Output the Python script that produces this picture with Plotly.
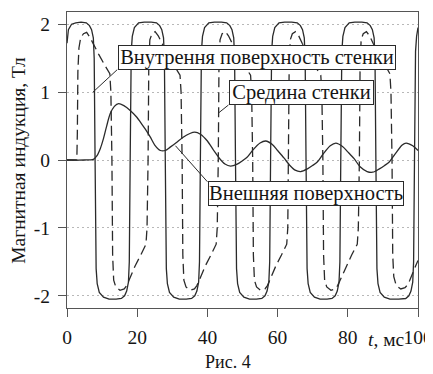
import plotly.graph_objects as go

# Inner wall surface (solid, rectangular-like wave)
t_inner = [0, 0.4, 1.3, 2.5, 4, 5.5, 6.4, 7.0, 7.5, 7.75, 8.0, 8.3, 8.6, 9.2, 10.4, 12, 14,
           15.5, 16.4, 17.0, 17.5, 17.75, 18.0, 18.3, 18.6, 19.2, 20.4, 22, 24,
           25.5, 26.4, 27.0, 27.5, 27.75, 28.0, 28.3, 28.6, 29.2, 30.4, 32, 34,
           35.5, 36.4, 37.0, 37.5, 37.75, 38.0, 38.3, 38.6, 39.2, 40.4, 42, 44,
           45.5, 46.4, 47.0, 47.5, 47.75, 48.0, 48.3, 48.6, 49.2, 50.4, 52, 54,
           55.5, 56.4, 57.0, 57.5, 57.75, 58.0, 58.3, 58.6, 59.2, 60.4, 62, 64,
           65.6, 66.5, 67.1, 67.6, 67.85, 68.1, 68.4, 68.7, 69.3, 70.5, 72.1, 74.1,
           75.5, 76.4, 77.0, 77.5, 77.75, 78.0, 78.3, 78.6, 79.2, 80.4, 82, 84,
           85.5, 86.4, 87.0, 87.5, 87.75, 88.0, 88.3, 88.6, 89.2, 90.4, 92, 94.5,
           96.5, 97.4, 98.0, 98.5, 98.75, 99.0, 99.3, 99.6, 100]
b_inner = [1.72, 1.92, 2.0, 2.02, 2.03, 2.02, 1.98, 1.92, 1.8, 1.5, 0, -1.6, -1.82, -1.95, -2.02, -2.05, -2.05,
           -2.04, -2.0, -1.93, -1.8, -1.5, 0, 1.6, 1.82, 1.95, 2.02, 2.03, 2.03,
           2.02, 1.98, 1.92, 1.8, 1.5, 0, -1.6, -1.82, -1.95, -2.02, -2.05, -2.05,
           -2.04, -2.0, -1.93, -1.8, -1.5, 0, 1.6, 1.82, 1.95, 2.02, 2.03, 2.03,
           2.02, 1.98, 1.92, 1.8, 1.5, 0, -1.6, -1.82, -1.95, -2.02, -2.05, -2.05,
           -2.04, -2.0, -1.93, -1.8, -1.5, 0, 1.6, 1.82, 1.95, 2.02, 2.03, 2.03,
           2.02, 1.98, 1.92, 1.8, 1.5, 0, -1.6, -1.82, -1.95, -2.02, -2.05, -2.05,
           -2.04, -2.0, -1.93, -1.8, -1.5, 0, 1.6, 1.82, 1.95, 2.02, 2.03, 2.03,
           2.02, 1.98, 1.92, 1.8, 1.5, 0, -1.6, -1.82, -1.95, -2.02, -2.05, -2.05,
           -2.04, -2.0, -1.93, -1.8, -1.5, 0, 1.6, 1.82, 1.95]

# Middle of the wall (dashed)
t_middle = [0, 2.8, 2.95, 3.1, 3.4, 3.9, 4.7, 5.6, 6.5, 7.5, 9.0, 10.4, 12.2, 12.5, 12.8,
            13.0, 13.3, 13.9, 15.1, 16.3, 17.0, 17.6, 19.4, 21.0, 22.5, 22.8, 23.1,
            23.3, 23.6, 24.2, 25.1, 26.0, 27.0, 28.7, 30.4, 32.2, 32.5, 32.8,
            33.0, 33.3, 33.9, 35.1, 36.3, 37.0, 37.6, 39.4, 41.0, 42.5, 42.8, 43.1,
            43.3, 43.6, 44.2, 45.1, 46.0, 47.0, 48.7, 50.4, 52.3, 52.6, 52.9,
            53.1, 53.4, 54.0, 55.2, 56.4, 57.1, 57.7, 59.5, 61.1, 62.6, 62.9, 63.1,
            63.3, 63.6, 64.2, 65.1, 66.0, 67.0, 68.7, 70.4, 72.3, 72.6, 72.9,
            73.1, 73.4, 74.0, 75.2, 76.4, 77.1, 77.7, 79.5, 81.1, 82.7, 83.0, 83.3,
            83.5, 83.8, 84.4, 85.3, 86.2, 87.2, 88.9, 90.6, 92.0, 92.3, 92.6,
            92.8, 93.1, 93.8, 95.1, 96.3, 97.0, 97.6, 99.0, 100]
b_middle = [0, 0, 0.4, 1.3, 1.65, 1.8, 1.86, 1.88, 1.81, 1.7, 1.56, 1.43, 1.27, 1.0, 0,
            -1.4, -1.77, -1.87, -1.92, -1.9, -1.85, -1.78, -1.56, -1.4, -1.24, -1.0, 0,
            1.4, 1.77, 1.86, 1.89, 1.83, 1.72, 1.55, 1.4, 1.25, 1.0, 0,
            -1.4, -1.77, -1.87, -1.92, -1.9, -1.85, -1.78, -1.56, -1.4, -1.24, -1.0, 0,
            1.4, 1.77, 1.86, 1.89, 1.83, 1.72, 1.55, 1.4, 1.25, 1.0, 0,
            -1.4, -1.77, -1.87, -1.92, -1.9, -1.85, -1.78, -1.56, -1.4, -1.24, -1.0, 0,
            1.4, 1.77, 1.86, 1.89, 1.83, 1.72, 1.55, 1.4, 1.25, 1.0, 0,
            -1.4, -1.77, -1.87, -1.92, -1.9, -1.85, -1.78, -1.56, -1.4, -1.24, -1.0, 0,
            1.4, 1.77, 1.86, 1.89, 1.83, 1.72, 1.55, 1.4, 1.27, 1.0, 0,
            -1.4, -1.72, -1.85, -1.9, -1.88, -1.84, -1.78, -1.6, -1.48]

# Outer surface (smooth solid)
t_outer = [0, 5, 7.5, 8.5, 9.5, 10.3, 11.3, 12.3, 13.5, 14.7, 16.2, 18, 19.9, 21, 22.5, 23.7, 25,
           26.6, 28, 29.4, 31, 33.2, 35, 36.4, 38, 40, 41.8, 43.5, 45, 46.6, 48.5, 50, 51.3,
           53, 55, 56.6, 58.5, 60, 61.8, 63.5, 65, 66.6, 68.5, 70, 71.3, 73, 75, 76.6, 78.5,
           80, 81.8, 83.5, 85.5, 87.1, 89, 90.5, 91.8, 93.5, 95.5, 96.6, 98.5, 100]
b_outer = [0, 0, 0.01, 0.06, 0.17, 0.3, 0.5, 0.68, 0.79, 0.83, 0.8, 0.73, 0.63, 0.55, 0.44, 0.34, 0.22,
           0.14, 0.14, 0.19, 0.25, 0.34, 0.39, 0.41, 0.38, 0.28, 0.14, 0.02, -0.06, -0.09, -0.06, -0.01, 0.04,
           0.15, 0.25, 0.28, 0.23, 0.14, 0.03, -0.08, -0.15, -0.17, -0.13, -0.08, -0.03, 0.09, 0.21, 0.25, 0.2,
           0.12, 0.02, -0.1, -0.17, -0.18, -0.13, -0.08, -0.03, 0.09, 0.22, 0.25, 0.21, 0.14]

x_ticks = [0, 20, 40, 60, 80, 100]
y_ticks = [-2, -1, 0, 1, 2]
y_ticktext = ["-2", "-1", "0", "1", "2"]

label_inner = "Внутрення поверхность стенки"
label_middle = "Средина стенки"
label_outer = "Внешняя поверхность"

FONT = "Liberation Serif, Times New Roman, serif"
INK = "#2a2a2a"
TXT = "#151515"

fig = go.Figure()
fig.add_trace(go.Scatter(x=t_outer, y=b_outer, mode="lines",
                         line=dict(color=INK, width=1.3, shape="spline", smoothing=0.8)))
fig.add_trace(go.Scatter(x=t_middle, y=b_middle, mode="lines",
                         line=dict(color=INK, width=1.3, dash="10px,5px")))
fig.add_trace(go.Scatter(x=t_inner, y=b_inner, mode="lines",
                         line=dict(color=INK, width=1.3)))

box = dict(showarrow=False, bgcolor="white", bordercolor=INK, borderwidth=1,
           borderpad=0, font=dict(family=FONT, size=20.5, color=TXT), height=23,
           xanchor="center", yanchor="middle")
fig.add_annotation(x=54, y=1.512, text=label_inner, width=276, **box)
fig.add_annotation(x=66.7, y=0.996, text=label_middle, width=143, **box)
fig.add_annotation(x=68, y=-0.50, text=label_outer, width=194, **box)

line_style = dict(color=INK, width=1)
fig.add_shape(type="line", x0=7.4, y0=1.0, x1=14.3, y1=1.33, line=line_style)
fig.add_shape(type="line", x0=43.1, y0=0.69, x1=46.0, y1=0.81, line=line_style)
fig.add_shape(type="line", x0=30.9, y0=0.21, x1=40.0, y1=-0.32, line=line_style)

fig.add_annotation(xref="paper", yref="paper", x=-0.14, y=0.5, text="Магнитная индукция, Тл",
                   textangle=-90, showarrow=False, xanchor="center", yanchor="middle",
                   font=dict(family=FONT, size=19.5, color=TXT))
fig.add_annotation(xref="x", yref="paper", x=90.9, y=-0.105, text="<i>t</i>, мс",
                   showarrow=False, xanchor="center", yanchor="middle",
                   font=dict(family=FONT, size=19.5, color=TXT))
fig.add_annotation(xref="paper", yref="paper", x=0.459, y=-0.182, text="Рис. 4",
                   showarrow=False, xanchor="center", yanchor="middle",
                   font=dict(family=FONT, size=18, color=TXT))

# The page body adds an 8px margin, so the figure is sized 8px smaller to fit the window
fig.update_layout(
    width=425, height=366,
    margin=dict(l=59, r=15, t=4, b=66, autoexpand=False),
    paper_bgcolor="white", plot_bgcolor="white",
    showlegend=False,
    font=dict(family=FONT, size=19.5, color=TXT),
    xaxis=dict(range=[0, 100], tickvals=x_ticks, ticks="outside", ticklen=8, tickcolor="#555",
               showline=True, linecolor="#555", linewidth=1, mirror=True, showgrid=False,
               zeroline=False, ticklabelstandoff=4, automargin=False),
    yaxis=dict(range=[-2.18, 2.18], tickvals=y_ticks, ticktext=y_ticktext, ticks="outside",
               ticklen=8, tickcolor="#555", showline=True, linecolor="#555", linewidth=1,
               mirror=True, showgrid=True, gridcolor="#b8b8b8", griddash="2px,3px", gridwidth=1,
               zeroline=False, ticklabelstandoff=4, automargin=False),
)

fig.write_html("out.html")
